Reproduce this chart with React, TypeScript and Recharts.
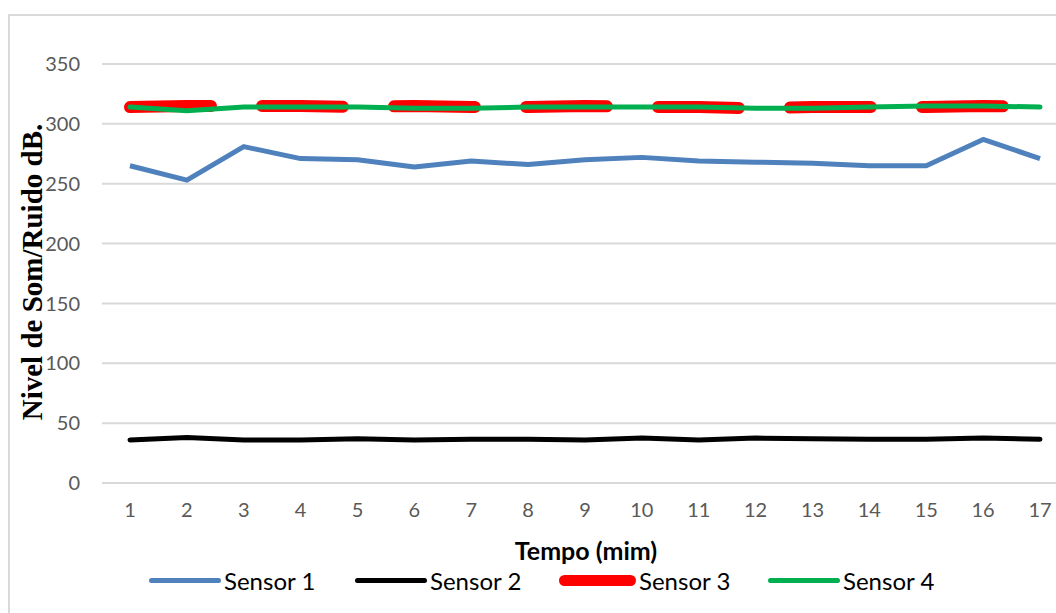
import { LineChart, Line, XAxis, YAxis, CartesianGrid } from 'recharts'

const minutes = ['1', '2', '3', '4', '5', '6', '7', '8', '9', '10', '11', '12', '13', '14', '15', '16', '17']
const sensor1 = [265, 253, 281, 271, 270, 264, 269, 266, 270, 272, 269, 268, 267, 265, 265, 287, 271]
const sensor2 = [36, 38, 36, 36, 37, 36, 36.5, 36.5, 36, 37.5, 36, 37.5, 37, 36.5, 36.5, 37.5, 36.5]
const sensor3 = [314, 315, 315, 315, 314, 315, 314, 314, 315, 314, 314, 313, 314, 314, 314, 315, 314]
const sensor4 = [314, 311, 314, 314, 314, 313, 313, 314, 314, 314, 314, 313, 313, 314, 315, 315, 314]
const yTicks = [0, 50, 100, 150, 200, 250, 300, 350]

// legend: colour, line width, where the item starts on the page
const SERIES = [
  { key: 'Sensor 1', color: '#4F81BD', width: 5, x: 149, icon: 72 },
  { key: 'Sensor 2', color: '#000000', width: 5, x: 355, icon: 72 },
  { key: 'Sensor 3', color: '#FF0000', width: 11, x: 559, icon: 77 },
  { key: 'Sensor 4', color: '#00B050', width: 5, x: 768, icon: 72 },
]

const data = minutes.map((m, i) => ({
  name: m,
  'Sensor 1': sensor1[i],
  'Sensor 2': sensor2[i],
  'Sensor 3': sensor3[i],
  'Sensor 4': sensor4[i],
}))

const FONT = 'Lato, "Liberation Sans", sans-serif'

export default function App() {
  return (
    <div style={{ position: 'absolute', left: 0, top: 0, width: 1056, height: 613, overflow: 'hidden', background: '#fff' }}>
      <div
        style={{
          position: 'absolute',
          left: 8,
          top: 14,
          width: 1200,
          height: 800,
          borderLeft: '2px solid #D9D9D9',
          borderTop: '2px solid #D9D9D9',
        }}
      />
      <div style={{ position: 'absolute', left: 0, top: 0 }}>
        <LineChart width={1080} height={613} data={data} margin={{ top: 64, right: 12, bottom: 100, left: 0 }}>
          <CartesianGrid vertical={false} stroke="#D9D9D9" strokeWidth={2} />
          <XAxis
            dataKey="name"
            padding={{ left: 28, right: 28 }}
            axisLine={{ stroke: '#D9D9D9', strokeWidth: 2 }}
            tickLine={false}
            tickMargin={14}
            tick={{ fill: '#595959', fontSize: 20, fontFamily: FONT }}
            interval={0}
          />
          <YAxis
            width={102}
            domain={[0, 350]}
            ticks={yTicks}
            axisLine={false}
            tickLine={false}
            tickMargin={16}
            tick={{ fill: '#595959', fontSize: 20, fontFamily: FONT }}
          />
          <Line dataKey="Sensor 1" stroke="#4F81BD" strokeWidth={5} dot={false} isAnimationActive={false} strokeLinejoin="round" />
          <Line dataKey="Sensor 2" stroke="#000000" strokeWidth={5} dot={false} isAnimationActive={false} strokeLinecap="round" />
          <Line
            dataKey="Sensor 3"
            stroke="#FF0000"
            strokeWidth={12}
            strokeDasharray="81 51"
            strokeLinecap="round"
            dot={false}
            isAnimationActive={false}
          />
          <Line dataKey="Sensor 4" stroke="#00B050" strokeWidth={5} dot={false} isAnimationActive={false} strokeLinecap="round" />
        </LineChart>
      </div>
      {SERIES.map((s) => (
        <div
          key={s.key}
          style={{
            position: 'absolute',
            left: s.x,
            top: 580,
            transform: 'translateY(-50%)',
            display: 'flex',
            alignItems: 'center',
            fontFamily: FONT,
            fontSize: 24,
            color: '#000',
            whiteSpace: 'nowrap',
          }}
        >
          <svg width={s.icon} height={14} style={{ marginRight: 3 }}>
            <line x1={s.width / 2} x2={s.icon - s.width / 2} y1={7} y2={7} stroke={s.color} strokeWidth={s.width} strokeLinecap="round" />
          </svg>
          <span>{s.key}</span>
        </div>
      ))}
      <div
        style={{
          position: 'absolute',
          left: 586,
          top: 550,
          transform: 'translate(-50%, -50%)',
          fontFamily: FONT,
          fontWeight: 700,
          fontSize: 25,
          color: '#000',
          whiteSpace: 'nowrap',
        }}
      >
        Tempo (mim)
      </div>
      <div
        style={{
          position: 'absolute',
          left: 32,
          top: 272,
          transform: 'translate(-50%, -50%) rotate(-90deg)',
          fontFamily: '"Liberation Serif", "Times New Roman", serif',
          fontWeight: 700,
          fontSize: 29,
          color: '#000',
          whiteSpace: 'nowrap',
        }}
      >
        Nivel de Som/Ruido dB.
      </div>
    </div>
  )
}
